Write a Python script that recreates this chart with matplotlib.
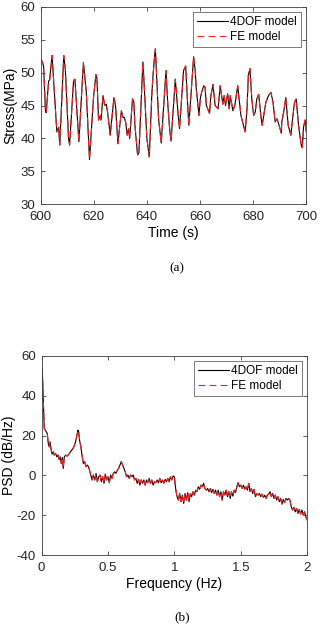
import numpy as np
import matplotlib
matplotlib.use("Agg")
import matplotlib.pyplot as plt
from matplotlib.ticker import FuncFormatter

# (a) stress time history
time_s = [600.0, 600.5, 601.1, 601.8, 602.1, 603.0, 603.4, 604.3, 606.1, 606.8,
          607.2, 608.7, 609.3, 610.5, 610.9, 612.4, 612.9, 614.4, 616.1, 617.2,
          618.4, 619.9, 620.8, 621.2, 621.8, 622.5, 622.7, 623.5, 624.1, 624.7,
          625.2, 626.2, 627.6, 628.2, 629.1, 630.4, 631.0, 631.5, 632.0, 632.6,
          633.1, 633.5, 634.6, 635.1, 635.5, 636.5, 637.0, 638.5, 639.0, 640.0,
          640.9, 641.9, 642.3, 642.9, 643.2, 644.4, 645.4, 647.2, 647.9, 648.6,
          649.1, 650.7, 651.3, 651.9, 652.3, 653.8, 654.6, 655.5, 655.8, 657.6,
          658.2, 658.6, 659.2, 659.6, 660.1, 660.6, 661.4, 661.9, 662.4, 663.6,
          664.1, 664.9, 665.7, 666.8, 667.6, 668.3, 668.6, 669.1, 669.6, 670.4,
          671.0, 671.4, 672.4, 673.1, 674.2, 675.4, 677.0, 677.7, 678.2, 678.8,
          679.5, 680.2, 680.8, 681.4, 682.1, 682.9, 683.4, 684.8, 685.8, 686.7,
          687.5, 688.3, 689.0, 689.7, 690.6, 690.8, 691.5, 692.3, 693.2, 694.2,
          695.0, 695.6, 696.2, 697.1, 698.1, 698.5, 699.0, 699.6, 700.0]
stress_4dof = [52.2, 51.7, 51.0, 44.4, 43.9, 48.7, 48.9, 52.6, 41.0, 41.7,
               39.0, 52.6, 50.5, 40.0, 39.0, 48.8, 49.0, 39.5, 51.5, 47.0,
               36.8, 46.2, 49.7, 49.2, 42.8, 43.5, 42.8, 46.5, 45.0, 45.2,
               44.0, 40.5, 46.2, 45.0, 39.2, 44.2, 43.2, 43.2, 42.5, 40.5,
               41.5, 40.0, 46.0, 45.5, 42.0, 37.5, 37.8, 51.6, 48.0, 40.0,
               37.2, 47.0, 49.5, 52.5, 53.6, 43.0, 39.3, 50.3, 45.0, 41.3,
               39.6, 49.0, 46.0, 43.0, 41.5, 50.3, 51.0, 44.0, 42.0, 52.4,
               50.3, 47.5, 45.0, 43.5, 46.0, 47.0, 48.0, 47.8, 45.0, 43.8,
               46.5, 48.2, 45.0, 44.5, 48.0, 46.0, 45.2, 46.5, 45.0, 46.8,
               44.5, 46.5, 44.2, 45.0, 48.0, 43.5, 41.0, 44.5, 49.6, 50.6,
               46.0, 43.5, 44.0, 46.0, 46.7, 43.5, 42.0, 45.5, 46.5, 47.0,
               45.5, 42.5, 43.0, 42.1, 40.8, 42.5, 44.0, 46.2, 42.0, 40.5,
               43.5, 45.5, 46.0, 42.0, 39.0, 38.6, 41.8, 42.8, 41.0]
# FE model lies on top of the 4DOF curve
stress_fe = list(stress_4dof)

# (b) PSD
freq_hz = [0.005, 0.013, 0.02, 0.033, 0.043, 0.05, 0.058, 0.063, 0.07, 0.078,
           0.088, 0.095, 0.105, 0.115, 0.125, 0.133, 0.14, 0.148, 0.156, 0.163,
           0.171, 0.181, 0.193, 0.206, 0.218, 0.231, 0.243, 0.256, 0.266, 0.274,
           0.279, 0.286, 0.296, 0.306, 0.314, 0.324, 0.334, 0.344, 0.354,
           0.37, 0.38, 0.39, 0.40, 0.41, 0.42, 0.43, 0.44, 0.45, 0.46,
           0.47, 0.48, 0.49, 0.50, 0.51, 0.52, 0.53, 0.54, 0.55, 0.56,
           0.57, 0.58, 0.59, 0.60, 0.61, 0.62, 0.63, 0.64, 0.65, 0.66,
           0.67, 0.68, 0.69, 0.70, 0.71, 0.72, 0.73, 0.74, 0.75, 0.76,
           0.77, 0.78, 0.79, 0.80, 0.81, 0.82, 0.83, 0.84, 0.85, 0.86,
           0.87, 0.88, 0.89, 0.90, 0.91, 0.92, 0.93, 0.94, 0.95, 0.96,
           0.97, 0.98, 0.99, 1.00, 1.01, 1.02, 1.03, 1.04, 1.05, 1.06,
           1.07, 1.08, 1.09, 1.10, 1.11, 1.12, 1.13, 1.14, 1.15, 1.16,
           1.17, 1.18, 1.19, 1.20, 1.21, 1.22, 1.23, 1.24, 1.25, 1.26,
           1.27, 1.28, 1.29, 1.30, 1.31, 1.32, 1.33, 1.34, 1.35, 1.36,
           1.37, 1.38, 1.39, 1.40, 1.41, 1.42, 1.43, 1.44, 1.45, 1.46,
           1.47, 1.48, 1.49, 1.50, 1.51, 1.52, 1.53, 1.54, 1.55, 1.56,
           1.57, 1.58, 1.59, 1.60, 1.61, 1.62, 1.63, 1.64, 1.65, 1.66,
           1.67, 1.68, 1.69, 1.70, 1.71, 1.72, 1.73, 1.74, 1.75, 1.76,
           1.77, 1.78, 1.79, 1.80, 1.81, 1.82, 1.83, 1.84, 1.85, 1.86,
           1.87, 1.88, 1.89, 1.90, 1.91, 1.92, 1.93, 1.94, 1.95, 1.96,
           1.97, 1.98, 1.99, 2.00]
psd_4dof = [53.6, 37.8, 23.5, 22.2, 21.0, 16.0, 14.3, 16.9, 13.5, 10.7,
            11.9, 10.2, 11.0, 9.3, 10.2, 8.0, 9.3, 6.0, 9.0, 3.5,
            9.3, 10.2, 9.7, 10.7, 11.9, 13.0, 14.3, 16.9, 20.2, 22.7,
            21.9, 17.7, 14.3, 9.3, 6.0, 6.9, 4.3, 5.2, 4.3,
            0.2, -2.3, 0.2, -2.3, 1.0, -3.2, -0.7, 0.2, -3.2, -0.7,
            -4.0, 0.7, -2.3, -0.7, -3.7, 0.2, -1.5, 1.0, 1.8, 1.0,
            2.6, 3.5, 5.2, 6.9, 5.2, 3.5, 1.8, -0.7, 0.2, -1.5,
            0.2, -0.7, 0.2, -2.3, -1.5, -4.0, -2.0, -4.9, -2.3, -4.0,
            -2.3, -4.9, -2.3, -3.7, -1.5, -4.0, -2.3, -4.9, -3.2, -3.7,
            -2.3, -3.7, -1.5, -3.7, -2.3, -4.0, -2.0, -3.2, -1.5, -3.2,
            -0.7, -2.3, -0.3, -0.8, -7.0, -10.7, -12.4, -9.1, -13.2, -9.9,
            -14.1, -9.1, -12.4, -8.7, -13.2, -9.1, -10.7, -8.2, -9.9, -7.4,
            -8.2, -5.7, -7.0, -4.9, -5.7, -4.0, -6.6, -7.4, -6.6, -8.2,
            -6.6, -8.7, -7.0, -9.1, -7.4, -9.9, -7.4, -10.7, -8.2, -12.4,
            -8.2, -9.9, -7.4, -10.7, -8.2, -11.6, -8.2, -10.4, -7.4, -8.7,
            -5.7, -3.7, -5.7, -4.9, -6.6, -4.9, -7.0, -5.7, -7.4, -4.0,
            -8.2, -6.6, -9.1, -7.0, -10.7, -9.1, -9.9, -9.1, -10.7, -9.4,
            -11.1, -9.9, -11.6, -9.9, -9.4, -8.2, -10.7, -9.1, -11.6, -9.9,
            -12.4, -10.7, -13.2, -11.6, -14.4, -12.1, -13.7, -11.6, -12.4, -11.6,
            -12.4, -15.8, -17.4, -16.1, -18.3, -16.6, -19.1, -17.1, -19.4, -17.4,
            -19.9, -18.3, -20.8, -22.4]
psd_fe = list(psd_4dof)

plt.rcParams['font.family'] = ['Liberation Sans', 'DejaVu Sans']
plt.rcParams['axes.unicode_minus'] = False
edge = '#404040'

fig = plt.figure(figsize=(3.2, 6.26), dpi=100)


def style_axes(ax):
    for s in ax.spines.values():
        s.set_color(edge)
        s.set_linewidth(0.6)
    ax.tick_params(direction='in', top=True, right=True, length=3, width=0.6,
                   colors=edge, labelcolor='#262626', labelsize=9.5)
    ax.tick_params(axis='x', pad=5)
    ax.tick_params(axis='y', pad=4)


def add_legend(ax):
    leg = ax.legend(loc='upper right', fontsize=8.5, frameon=True, fancybox=False,
                    handlelength=2.6, handletextpad=0.2, borderpad=0.35,
                    labelspacing=0.25, borderaxespad=0.45)
    leg.get_frame().set_edgecolor(edge)
    leg.get_frame().set_linewidth(0.6)


ax1 = fig.add_axes([0.127, 0.6736, 0.83, 0.3157])
ax1.plot(time_s, stress_4dof, color='black', lw=0.8, label='4DOF model')
ax1.plot(time_s, stress_fe, color='#ff2020', lw=0.8, dashes=(6, 4), label='FE model')
ax1.set_xlim(600, 700)
ax1.set_ylim(30, 60)
ax1.set_xticks([600, 620, 640, 660, 680, 700])
ax1.set_yticks([30, 35, 40, 45, 50, 55, 60])
ax1.set_xlabel('Time (s)', fontsize=10, labelpad=2)
ax1.set_ylabel('Stress(MPa)', fontsize=10)
ax1.yaxis.set_label_coords(-0.0885, 0.5)
style_axes(ax1)
add_legend(ax1)

ax2 = fig.add_axes([0.13, 0.1134, 0.83, 0.318])
ax2.plot(freq_hz, psd_4dof, color='black', lw=0.8, label='4DOF model')
ax2.plot(freq_hz, psd_fe, color='#ff2020', lw=0.8, dashes=(6, 4), label='FE model')
ax2.set_xlim(0, 2)
ax2.set_ylim(-40, 60)
ax2.set_xticks([0, 0.5, 1, 1.5, 2])
ax2.set_yticks([-40, -20, 0, 20, 40, 60])
ax2.xaxis.set_major_formatter(FuncFormatter(lambda v, p: '%g' % v))
ax2.set_xlabel('Frequency (Hz)', fontsize=10, labelpad=2)
ax2.set_ylabel('PSD (dB/Hz)', fontsize=10)
ax2.yaxis.set_label_coords(-0.0964, 0.5)
style_axes(ax2)
add_legend(ax2)

fig.text(177 / 320, 1 - 268 / 626, '(a)', ha='center', va='center', fontsize=9.5,
         family='Liberation Serif')
fig.text(182 / 320, 1 - 617 / 626, '(b)', ha='center', va='center', fontsize=9.5,
         family='Liberation Serif')

fig.savefig('out.png', dpi=100)
